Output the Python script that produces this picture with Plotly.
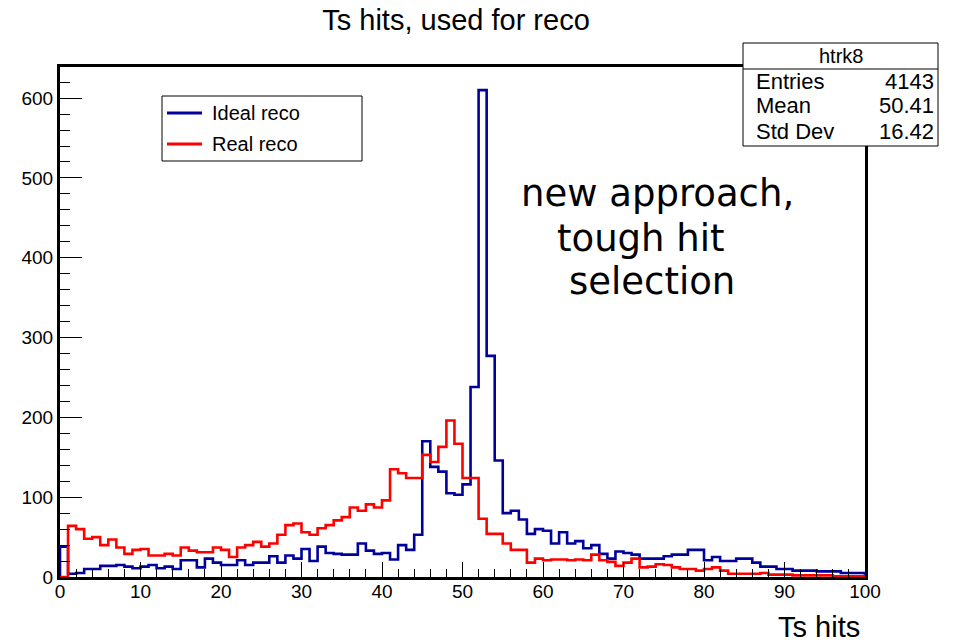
import numpy as np
import plotly.graph_objects as go

# Histogram binning: 100 bins over [0, 100)
n_bins = 100
x_min, x_max = 0, 100

# Bin contents, one value per bin
ideal_counts = [
    38, 4, 5, 10, 10, 14, 14, 15, 13, 11,
    13, 15, 11, 13, 10, 21, 21, 12, 23, 18,
    15, 15, 21, 15, 18, 18, 26, 18, 27, 23,
    35, 20, 38, 30, 29, 28, 28, 42, 33, 29,
    30, 22, 40, 34, 53, 170, 138, 132, 105, 103,
    116, 238, 610, 277, 146, 80, 83, 72, 54, 60,
    58, 42, 56, 42, 45, 36, 40, 29, 23, 32,
    30, 28, 23, 23, 23, 26, 28, 28, 34, 34,
    21, 25, 20, 20, 23, 23, 18, 13, 13, 10,
    10, 8, 8, 8, 7, 7, 7, 5, 5, 5,
]
real_counts = [
    0, 64, 60, 48, 50, 40, 47, 37, 29, 34,
    35, 27, 27, 29, 27, 37, 33, 31, 31, 37,
    34, 25, 37, 40, 44, 38, 42, 53, 65, 67,
    56, 53, 61, 65, 71, 75, 87, 83, 91, 87,
    96, 135, 130, 124, 124, 153, 144, 163, 196, 167,
    124, 124, 73, 54, 54, 42, 34, 34, 18, 23,
    21, 22, 22, 21, 22, 21, 28, 21, 19, 14,
    18, 23, 12, 13, 16, 15, 12, 10, 10, 8,
    10, 12, 8, 4, 4, 4, 4, 5, 3, 3,
    3, 2, 2, 2, 2, 2, 1, 1, 1, 1,
]
series_names = ["Ideal reco", "Real reco"]
series_colors = ["#00009c", "#ff0000"]

x_tick_vals = list(range(0, 101, 10))
y_tick_vals = list(range(0, 601, 100))

stats_title = "htrk8"
stats_labels = ["Entries", "Mean", "Std Dev"]
stats_values = ["4143", "50.41", "16.42"]

note_lines = ["new approach,", "tough hit", "selection"]

# Canvas geometry (pixels)
W, H = 955, 643
L, R, T, B = 60, 865, 67, 577  # frame edges


def px(xp):
    return (xp - L) / (R - L)


def py(yp):
    return (B - yp) / (B - T)


edges = np.linspace(x_min, x_max, n_bins + 1)


def step_xy(counts):
    xs = [edges[0]] + list(edges[:-1]) + [edges[-1]]
    ys = [0] + list(counts) + [0]
    return xs, ys


fig = go.Figure()
for counts, name, color in zip([ideal_counts, real_counts], series_names, series_colors):
    xs, ys = step_xy(counts)
    fig.add_trace(go.Scatter(
        x=xs, y=ys, mode="lines", name=name,
        line=dict(color=color, width=2.6, shape="hv"),
        showlegend=False, hoverinfo="skip",
    ))

helv = "Liberation Sans, Arial, Helvetica, sans-serif"

fig.update_layout(
    width=W, height=H,
    margin=dict(l=L, r=W - R, t=T, b=H - B),
    paper_bgcolor="white", plot_bgcolor="white",
    title=dict(text="Ts hits, used for reco", x=456 / W, xref="container",
               y=1 - 20 / H, yref="container", xanchor="center", yanchor="middle",
               font=dict(family=helv, size=29, color="black")),
    font=dict(family=helv, color="black"),
)

axis_common = dict(
    showline=True, linewidth=3, linecolor="black", mirror=True,
    showgrid=False, zeroline=False, ticks="inside", tickcolor="black",
    tickwidth=1, tickfont=dict(family=helv, size=19, color="black"),
)
fig.update_xaxes(range=[x_min, x_max], tickvals=x_tick_vals, ticklen=15,
                 ticklabelstandoff=-5,
                 minor=dict(ticks="inside", ticklen=8, dtick=2, tick0=0,
                            tickcolor="black", tickwidth=1, showgrid=False),
                 **axis_common)
fig.update_yaxes(range=[0, 639], tickvals=y_tick_vals, ticklen=22,
                 minor=dict(ticks="inside", ticklen=10, dtick=20, tick0=0,
                            tickcolor="black", tickwidth=1, showgrid=False),
                 **axis_common)

shapes = []
annotations = []

# x-axis title, right-aligned under the frame
annotations.append(dict(text="Ts hits", x=px(862), y=py(627), xref="paper", yref="paper",
                        xanchor="right", yanchor="middle", showarrow=False,
                        font=dict(family=helv, size=29, color="black")))

# Legend box
shapes.append(dict(type="rect", xref="paper", yref="paper",
                   x0=px(162), x1=px(362), y0=py(161), y1=py(96),
                   line=dict(color="black", width=1), fillcolor="white", layer="above"))
for i, (name, color) in enumerate(zip(series_names, series_colors)):
    yy = [113, 144][i]
    shapes.append(dict(type="line", xref="paper", yref="paper",
                       x0=px(167), x1=px(202), y0=py(yy), y1=py(yy),
                       line=dict(color=color, width=3), layer="above"))
    annotations.append(dict(text=name, x=px(210), y=py(yy), xref="paper", yref="paper",
                            xanchor="left", yanchor="middle", showarrow=False,
                            font=dict(family=helv, size=20, color="black")))

# Statistics box
shapes.append(dict(type="rect", xref="paper", yref="paper",
                   x0=px(743), x1=px(938), y0=py(146), y1=py(43),
                   line=dict(color="black", width=1), fillcolor="white", layer="above"))
shapes.append(dict(type="line", xref="paper", yref="paper",
                   x0=px(743), x1=px(938), y0=py(69), y1=py(69),
                   line=dict(color="black", width=1), layer="above"))
annotations.append(dict(text=stats_title, x=px(841), y=py(56), xref="paper", yref="paper",
                        xanchor="center", yanchor="middle", showarrow=False,
                        font=dict(family=helv, size=20, color="black")))
for i, (lab, val) in enumerate(zip(stats_labels, stats_values)):
    yy = 81 + 25 * i
    annotations.append(dict(text=lab, x=px(754), y=py(yy), xref="paper", yref="paper",
                            xanchor="left", yanchor="middle", showarrow=False,
                            font=dict(family=helv, size=22, color="black")))
    annotations.append(dict(text=val, x=px(936), y=py(yy), xref="paper", yref="paper",
                            xanchor="right", yanchor="middle", showarrow=False,
                            font=dict(family=helv, size=22, color="black")))

# Free-text note inside the frame
for line, (xl, yc) in zip(note_lines, [(519, 193), (555, 238), (567, 281)]):
    annotations.append(dict(text=line, x=px(xl), y=py(yc), xref="paper", yref="paper",
                            xanchor="left", yanchor="middle", showarrow=False,
                            font=dict(family="DejaVu Sans", size=37, color="black")))

fig.update_layout(shapes=shapes, annotations=annotations)
fig.write_html("out.html")
